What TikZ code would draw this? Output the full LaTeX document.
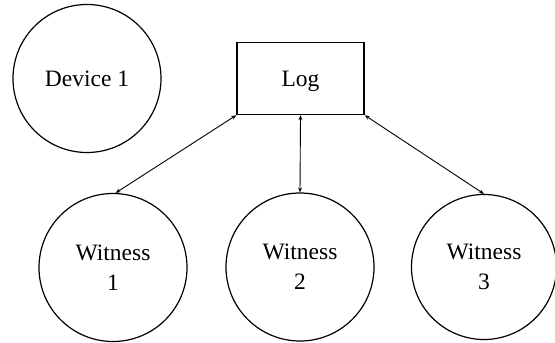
\documentclass[tikz,border=0pt]{standalone}
\usepackage{fontspec}
\setmainfont{Liberation Serif}
\usetikzlibrary{arrows.meta}
\begin{document}
\begin{tikzpicture}[x=1pt,y=-1pt,
  circ/.style={draw,circle,line width=1.2pt,inner sep=0pt,align=center,
    font=\fontsize{23.5}{30}\selectfont},
  box/.style={draw,rectangle,line width=1.4pt,inner sep=0pt,text depth=0pt,
    font=\fontsize{23.5}{30}\selectfont},
  link/.style={line width=0.9pt,{Stealth[length=5pt,width=4pt]}-{Stealth[length=5pt,width=4pt]}}]
\useasboundingbox (0,0) rectangle (555,343);
\node[circ,minimum size=148pt] (dev) at (87,78.5) {Device 1};
\node[box,minimum width=127pt,minimum height=72pt] (log) at (300.5,78.5) {Log};
\node[circ,minimum size=148pt] (w1) at (113,267.5) {Witness\\1};
\node[circ,minimum size=148pt] (w2) at (300,267) {Witness\\2};
\node[circ,minimum size=145pt] (w3) at (484,267) {Witness\\3};
\draw[link] (log.south west) -- (w1.88);
\draw[link] (log.south) -- (w2.north);
\draw[link] (log.south east) -- (w3.north);
\end{tikzpicture}
\end{document}
